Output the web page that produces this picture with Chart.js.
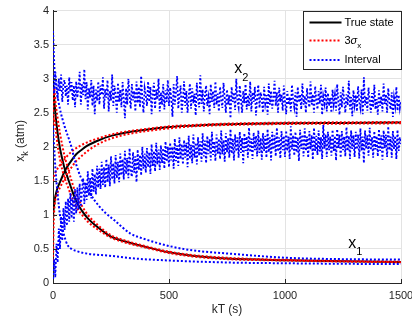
<!DOCTYPE html>
<html>
<head>
<meta charset="utf-8">
<script src="https://cdn.jsdelivr.net/npm/chart.js@4.4.1/dist/chart.umd.min.js"></script>
<style>
  html, body { margin: 0; padding: 0; background: #fff; }
</style>
</head>
<body>
<canvas id="chart" width="412" height="320"></canvas>
<script>
// --- data ---
const kTrue = [0, 5, 10, 20, 30, 40, 50, 60, 80, 100, 125, 150, 200, 250, 300, 400, 500, 600, 750, 1000, 1250, 1500];
const x1True = [3.0, 2.72, 2.5, 2.2, 1.98, 1.82, 1.68, 1.58, 1.38, 1.2, 1.06, 0.95, 0.8, 0.68, 0.62, 0.53, 0.45, 0.4, 0.36, 0.335, 0.32, 0.31];
const x2True = [1.0, 1.15, 1.27, 1.4, 1.48, 1.56, 1.64, 1.7, 1.8, 1.89, 1.96, 2.02, 2.1, 2.16, 2.2, 2.25, 2.29, 2.31, 2.33, 2.345, 2.35, 2.355];

// 3 sigma bounds (red)
const x1SigUp = [2.4, 2.86, 2.68, 2.42, 2.2, 2.02, 1.86, 1.74, 1.5, 1.3, 1.13, 1.0, 0.83, 0.7, 0.635, 0.54, 0.46, 0.41, 0.37, 0.34, 0.325, 0.315];
const x1SigLo = [2.3, 2.45, 2.3, 2.02, 1.82, 1.66, 1.54, 1.45, 1.27, 1.12, 1.0, 0.9, 0.77, 0.665, 0.605, 0.52, 0.44, 0.39, 0.35, 0.33, 0.315, 0.305];
const x2SigUp = [1.5, 1.58, 1.62, 1.68, 1.73, 1.78, 1.82, 1.86, 1.93, 1.98, 2.03, 2.07, 2.13, 2.18, 2.215, 2.26, 2.3, 2.32, 2.34, 2.355, 2.36, 2.365];
const kSig2Lo = [0, 2, 5, 10, 20, 30, 40, 50, 60, 80, 100, 125, 150, 200, 250, 300, 400, 500, 600, 750, 1000, 1250, 1500];
const x2SigLo = [0.3, 0.75, 1.05, 1.22, 1.33, 1.4, 1.47, 1.53, 1.6, 1.7, 1.79, 1.87, 1.94, 2.05, 2.12, 2.17, 2.23, 2.27, 2.3, 2.32, 2.335, 2.34, 2.345];

// interval bounds for x1 (blue)
const kInt1Up = [0, 3, 7, 15, 29, 50, 70, 81, 90, 100, 120, 150, 180, 220, 265, 332, 400, 504, 600, 764, 1010, 1250, 1500];
const x1IntUp = [3.7, 3.4, 3.1, 2.85, 2.57, 2.3, 2.1, 1.98, 1.85, 1.74, 1.55, 1.37, 1.21, 1.05, 0.92, 0.73, 0.64, 0.54, 0.48, 0.43, 0.37, 0.35, 0.345];
const kInt1Lo = [0, 10, 20, 30, 42, 55, 64, 80, 100, 150, 245, 350, 504, 764, 1000, 1250, 1500];
const x1IntLo = [2.3, 1.7, 1.3, 1.0, 0.78, 0.62, 0.55, 0.5, 0.47, 0.43, 0.4, 0.36, 0.33, 0.3, 0.29, 0.282, 0.278];

// interval bounds for x2 (blue, noisy), one value every 5 s
const kStep = 5;
const x2IntUp = [
  3.05, 2.78, 3.10, 2.92, 2.70, 3.00, 2.82, 3.06, 2.66, 2.94, 2.98, 2.74, 2.90, 2.62, 3.02, 2.80, 2.95, 2.68, 2.90, 2.58,
  2.96, 2.72, 2.88, 3.10, 2.62, 2.92, 2.76, 3.14, 2.70, 2.95, 2.55, 2.86, 2.72, 2.98, 2.60, 2.90, 2.48, 2.84, 2.68, 2.96,
  2.62, 2.90, 2.76, 3.02, 2.56, 2.85, 2.72, 2.98, 2.52, 2.82, 2.68, 3.06, 2.60, 2.90, 2.74, 2.50, 2.94, 2.66, 2.84, 2.58,
  2.95, 2.70, 2.42, 2.86, 2.62, 3.00, 2.76, 2.56, 2.92, 2.68, 2.82, 2.52, 2.96, 2.64, 2.88, 2.58, 3.04, 2.70, 2.50, 2.86,
  2.76, 2.60, 2.96, 2.66, 2.88, 2.48, 2.78, 2.94, 2.56, 2.84, 2.70, 3.00, 2.52, 2.80, 2.62, 2.92, 2.55, 2.83, 2.66, 2.98,
  2.60, 2.87, 2.72, 2.44, 2.92, 2.62, 2.80, 3.04, 2.56, 2.76, 2.90, 2.50, 2.70, 2.96, 2.60, 2.82, 2.50, 2.74, 2.93, 2.56,
  2.86, 2.64, 2.78, 2.46, 2.94, 2.70, 2.58, 3.05, 2.63, 2.84, 2.52, 2.76, 2.90, 2.60, 2.72, 2.48, 2.92, 2.66, 2.82, 2.57,
  2.96, 2.62, 2.78, 2.52, 2.88, 2.70, 2.57, 2.94, 2.72, 2.50, 2.84, 2.62, 2.76, 2.42, 2.88, 2.66, 2.80, 2.54, 3.00, 2.67,
  2.58, 2.90, 2.70, 2.50, 2.82, 2.64, 2.92, 2.55, 2.76, 2.60, 2.96, 2.52, 2.80, 2.66, 2.88, 2.46, 2.72, 2.91, 2.57, 2.80,
  2.70, 2.50, 2.88, 2.64, 2.76, 2.47, 2.93, 2.62, 2.82, 2.56, 2.72, 2.97, 2.60, 2.80, 2.50, 2.87, 2.66, 2.77, 2.53, 2.90,
  2.66, 2.48, 2.82, 2.62, 2.73, 2.52, 2.91, 2.68, 2.58, 2.80, 2.44, 2.88, 2.65, 2.77, 2.55, 2.93, 2.62, 2.75, 2.50, 2.86,
  2.68, 2.58, 2.96, 2.62, 2.77, 2.50, 2.89, 2.68, 2.55, 2.82, 2.63, 2.91, 2.47, 2.74, 2.64, 2.87, 2.52, 2.79, 2.60, 2.72,
  2.50, 2.84, 2.63, 2.76, 2.53, 2.92, 2.66, 2.47, 2.80, 2.58, 2.88, 2.68, 2.50, 2.77, 2.61, 2.97, 2.55, 2.73, 2.45, 2.83,
  2.62, 2.76, 2.52, 2.89, 2.66, 2.57, 2.84, 2.48, 3.02, 2.61, 2.74, 2.53, 2.87, 2.67, 2.50, 2.79, 2.58, 2.91, 2.55, 2.70,
  2.47, 2.83, 2.60, 2.74, 2.52, 2.93, 2.63, 2.77, 2.50, 2.86, 2.66, 2.55, 2.80, 2.44, 2.72, 2.60, 2.88, 2.53, 2.76, 2.57,
  2.68
];
const x2IntLo = [
  0.00, 0.35, 0.08, 0.58, 0.30, 0.80, 0.50, 0.98, 0.62, 1.10, 0.78, 1.20, 0.84, 1.24, 0.90, 1.32, 0.95, 1.26, 0.90, 1.38,
  1.02, 1.40, 1.08, 1.46, 1.12, 1.36, 1.54, 1.16, 1.48, 1.22, 1.64, 1.28, 1.54, 1.24, 1.68, 1.34, 1.60, 1.30, 1.72, 1.40,
  1.68, 1.38, 1.78, 1.44, 1.70, 1.40, 1.82, 1.48, 1.74, 1.42, 1.86, 1.52, 1.76, 1.46, 1.88, 1.54, 1.78, 1.48, 1.90, 1.58,
  1.82, 1.52, 1.94, 1.60, 1.84, 1.54, 1.98, 1.64, 1.56, 1.92, 1.62, 1.86, 1.48, 1.96, 1.66, 1.88, 1.58, 2.00, 1.68, 1.90,
  1.62, 1.98, 1.70, 1.92, 1.60, 2.04, 1.72, 1.94, 1.64, 2.06, 1.74, 1.96, 1.66, 2.02, 1.76, 1.98, 1.68, 2.08, 1.78, 2.00,
  1.70, 2.06, 1.80, 2.00, 1.68, 2.12, 1.79, 2.02, 1.72, 2.14, 1.82, 2.04, 1.74, 2.10, 1.84, 2.06, 1.70, 2.16, 1.82, 2.03,
  1.76, 2.18, 1.84, 2.06, 1.74, 2.14, 1.87, 2.08, 1.78, 2.20, 1.86, 2.09, 1.76, 2.16, 1.89, 2.11, 1.80, 2.22, 1.88, 2.08,
  1.79, 2.18, 1.90, 2.12, 1.82, 2.24, 1.89, 2.10, 1.78, 2.20, 1.92, 2.13, 1.84, 2.26, 1.90, 2.12, 1.80, 2.18, 1.93, 2.14,
  1.84, 2.22, 1.91, 2.13, 1.76, 2.20, 1.94, 2.15, 1.84, 2.28, 1.92, 2.12, 1.82, 2.21, 1.95, 2.16, 1.86, 2.24, 1.91, 2.13,
  1.81, 2.20, 1.94, 2.16, 1.84, 2.26, 1.92, 2.14, 1.80, 2.22, 1.96, 2.17, 1.86, 2.28, 1.93, 2.14, 1.83, 2.23, 1.95, 2.16,
  1.85, 2.24, 1.94, 2.15, 1.82, 2.30, 1.96, 2.17, 1.87, 2.22, 1.92, 2.14, 1.79, 2.25, 1.97, 2.18, 1.86, 2.27, 1.94, 2.15,
  1.84, 2.23, 1.96, 2.17, 1.81, 2.28, 1.94, 2.16, 1.88, 2.24, 1.93, 2.14, 1.82, 2.32, 1.97, 2.18, 1.85, 2.22, 1.95, 2.15,
  1.87, 2.25, 1.94, 2.16, 1.80, 2.26, 1.98, 2.18, 1.84, 2.23, 1.95, 2.15, 1.86, 2.29, 1.94, 2.16, 1.82, 2.24, 1.97, 2.17,
  1.85, 2.22, 1.96, 2.18, 1.83, 2.27, 1.94, 2.15, 1.76, 2.24, 1.97, 2.17, 1.87, 2.28, 1.95, 2.14, 1.84, 2.23, 1.96, 2.16,
  1.86, 2.26, 1.94, 2.17, 1.81, 2.24, 1.98, 2.18, 1.85, 2.30, 1.95, 2.15, 1.84, 2.23, 1.97, 2.16, 1.82, 2.25, 1.94, 2.14,
  2.04
];
const kNoisy = x2IntUp.map((_, i) => i * kStep);

const xTicks = [0, 500, 1000, 1500];
const yTicks = [0, 0.5, 1, 1.5, 2, 2.5, 3, 3.5, 4];

// --- helpers ---
const FAM = '"Liberation Sans", Arial, Helvetica, sans-serif';
const AXIS = '#262626';
const GRID = '#e3e3e3';

function xy(ks, ys) {
  return ks.map((k, i) => ({ x: k, y: ys[i] }));
}

function line(data, color, width, dash, order, smooth, dashOffset) {
  return {
    data: data,
    borderColor: color,
    borderWidth: width,
    borderDash: dash,
    borderDashOffset: dashOffset || 0,
    pointRadius: 0,
    fill: false,
    order: order,
    cubicInterpolationMode: smooth ? 'monotone' : 'default',
    tension: 0
  };
}

function subText(ctx, x, y, main, sub, size, subSize, drop, italic) {
  ctx.font = (italic ? 'italic ' : '') + size + 'px ' + FAM;
  ctx.fillText(main, x, y);
  const w = ctx.measureText(main).width;
  ctx.font = subSize + 'px ' + FAM;
  ctx.fillText(sub, x + w, y + drop);
  return w + ctx.measureText(sub).width;
}

// inside ticks, text labels, axis titles and legend
const decor = {
  id: 'decor',
  afterDraw(chart) {
    const ctx = chart.ctx;
    const area = chart.chartArea;
    const sx = chart.scales.x, sy = chart.scales.y;
    ctx.save();

    // inside tick marks
    ctx.strokeStyle = AXIS;
    ctx.lineWidth = 1;
    ctx.beginPath();
    yTicks.forEach(v => {
      const p = Math.round(sy.getPixelForValue(v)) + 0.5;
      ctx.moveTo(area.left, p);
      ctx.lineTo(area.left + 4, p);
    });
    xTicks.forEach(v => {
      const p = Math.round(sx.getPixelForValue(v)) + 0.5;
      ctx.moveTo(p, area.bottom);
      ctx.lineTo(p, area.bottom - 4);
    });
    ctx.stroke();

    ctx.fillStyle = '#000';
    ctx.textBaseline = 'alphabetic';
    ctx.textAlign = 'left';
    // curve labels
    subText(ctx, sx.getPixelForValue(781), sy.getPixelForValue(3.08), 'x', '2', 16, 11, 8);
    subText(ctx, sx.getPixelForValue(1273), sy.getPixelForValue(0.51), 'x', '1', 16, 11, 7);

    // x axis title
    ctx.fillStyle = AXIS;
    ctx.font = '12px ' + FAM;
    ctx.textAlign = 'center';
    ctx.textBaseline = 'middle';
    ctx.fillText('kT (s)', (area.left + area.right) / 2, 310);

    // y axis title (rotated)
    ctx.save();
    ctx.translate(24, (area.top + area.bottom) / 2 - 6);
    ctx.rotate(-Math.PI / 2);
    ctx.textAlign = 'left';
    ctx.textBaseline = 'alphabetic';
    ctx.font = '12px ' + FAM;
    const w1 = ctx.measureText('x').width;
    ctx.font = '9px ' + FAM;
    const w2 = ctx.measureText('k').width;
    ctx.font = '12px ' + FAM;
    const w3 = ctx.measureText(' (atm)').width;
    let tx = -(w1 + w2 + w3) / 2;
    tx += subText(ctx, tx, 0, 'x', 'k', 12, 9, 4);
    ctx.font = '12px ' + FAM;
    ctx.fillText(' (atm)', tx, 0);
    ctx.restore();

    // legend
    const lw = 98, lh = 58;
    const lx = Math.round(area.right - lw) + 0.5, ly = Math.round(area.top) + 0.5;
    ctx.fillStyle = '#fff';
    ctx.fillRect(lx, ly, lw, lh);
    ctx.strokeStyle = AXIS;
    ctx.lineWidth = 1;
    ctx.setLineDash([]);
    ctx.strokeRect(lx, ly, lw, lh);
    const rows = [
      { y: ly + 11, color: '#000', width: 2, dash: [] },
      { y: ly + 29, color: '#ff0000', width: 2, dash: [2, 2] },
      { y: ly + 48.5, color: '#0000ff', width: 2, dash: [2, 2] }
    ];
    rows.forEach(r => {
      ctx.beginPath();
      ctx.strokeStyle = r.color;
      ctx.lineWidth = r.width;
      ctx.setLineDash(r.dash);
      ctx.moveTo(lx + 6, r.y);
      ctx.lineTo(lx + 38, r.y);
      ctx.stroke();
    });
    ctx.setLineDash([]);
    ctx.fillStyle = '#000';
    ctx.textAlign = 'left';
    ctx.textBaseline = 'middle';
    ctx.font = '11px ' + FAM;
    ctx.fillText('True state', lx + 41, rows[0].y);
    const w3s = ctx.measureText('3').width;
    ctx.fillText('3', lx + 41, rows[1].y);
    subText(ctx, lx + 41 + w3s, rows[1].y, '\u03c3', 'x', 11, 8, 5, true);
    ctx.font = '11px ' + FAM;
    ctx.fillText('Interval', lx + 41, rows[2].y);

    ctx.restore();
  }
};

const dot = [2, 2];

new Chart(document.getElementById('chart').getContext('2d'), {
  type: 'line',
  data: {
    datasets: [
      // true state
      line(xy(kTrue, x1True), '#000000', 2, [], 2, true),
      line(xy(kTrue, x2True), '#000000', 2, [], 2, true),
      // 3 sigma (lower bounds offset so the pair closes up where they meet)
      line(xy(kTrue, x1SigUp), '#ff0000', 2, dot, 1, true),
      line(xy(kTrue, x1SigLo), '#ff0000', 2, dot, 1, true, 2),
      line(xy(kTrue, x2SigUp), '#ff0000', 2, dot, 1, true),
      line(xy(kSig2Lo, x2SigLo), '#ff0000', 2, dot, 1, true, 2),
      // interval
      line(xy(kInt1Up, x1IntUp), '#0000ff', 2, dot, 0, true),
      line(xy(kInt1Lo, x1IntLo), '#0000ff', 2, dot, 0, true),
      line(xy(kNoisy, x2IntUp), '#0000ff', 1.8, dot, 0, false),
      line(xy(kNoisy, x2IntLo), '#0000ff', 1.8, dot, 0, false)
    ]
  },
  options: {
    responsive: false,
    animation: false,
    events: [],
    layout: { padding: { top: 9, right: 0, left: 0, bottom: 0 } },
    plugins: {
      legend: { display: false },
      tooltip: { enabled: false }
    },
    scales: {
      x: {
        type: 'linear',
        min: 0,
        max: 1500,
        afterBuildTicks(s) { s.ticks = xTicks.map(v => ({ value: v })); },
        afterFit(s) {
          s.height = 37;
          s.paddingLeft = 0;
          s.paddingRight = 11;
        },
        ticks: {
          color: AXIS,
          padding: 6,
          maxRotation: 0,
          font: { family: FAM, size: 11 },
          callback: v => String(v)
        },
        grid: { color: GRID, drawTicks: false },
        border: { color: AXIS }
      },
      y: {
        type: 'linear',
        min: 0,
        max: 4,
        afterBuildTicks(s) { s.ticks = yTicks.map(v => ({ value: v })); },
        afterFit(s) { s.width = 53; },
        ticks: {
          color: AXIS,
          padding: 4,
          font: { family: FAM, size: 11 },
          callback: v => String(v)
        },
        grid: { color: GRID, drawTicks: false },
        border: { color: AXIS }
      }
    }
  },
  plugins: [decor]
});
</script>
</body>
</html>
